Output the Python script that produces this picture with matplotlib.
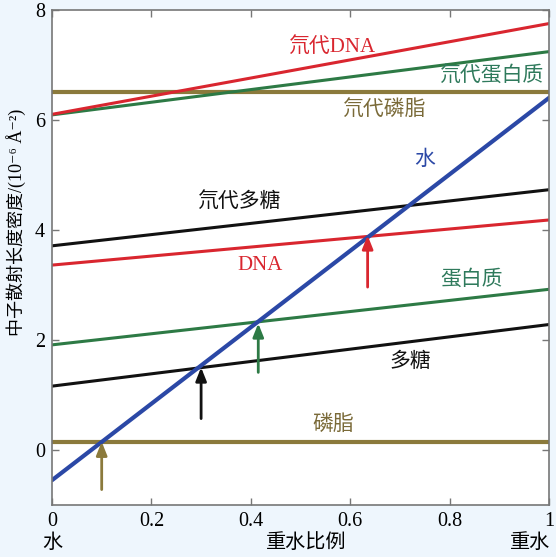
import matplotlib
matplotlib.use('Agg')
import matplotlib.pyplot as plt
import numpy as np

plt.rcParams['font.family'] = ['Liberation Serif', 'DejaVu Serif', 'Noto Sans CJK SC']

# D2O fraction endpoints
x_ends = [0, 1]

# scattering length density at 0% and 100% D2O
water = [-0.55, 6.4]
lipid = [0.15, 0.15]
sugar = [1.16, 2.28]
protein = [1.91, 2.92]
dna = [3.36, 4.18]
d_sugar = [3.71, 4.73]
d_lipid = [6.5, 6.5]
d_protein = [6.09, 7.24]
d_dna = [6.10, 7.75]

# match points (arrow x, arrow start y, arrow end y)
arrow_x = [0.1, 0.3, 0.415, 0.635]
arrow_y0 = [-0.72, 0.57, 1.41, 2.96]
arrow_y1 = [0.15, 1.5, 2.3, 3.9]

red = '#d9262f'
green = '#2d7a45'
olive = '#8b7a3c'
blue = '#2b48a6'
black = '#111111'
arrow_colors = [olive, black, green, red]

fig = plt.figure(figsize=(5.56, 5.57), dpi=100)
fig.patch.set_facecolor('#eef6fd')
ax = fig.add_axes([0.0935, 0.0934, 0.894, 0.889])
ax.set_facecolor('white')

lw = 2.2
ax.plot(x_ends, lipid, color=olive, lw=3)
ax.plot(x_ends, d_lipid, color=olive, lw=3)
ax.plot(x_ends, sugar, color=black, lw=lw)
ax.plot(x_ends, d_sugar, color=black, lw=lw)
ax.plot(x_ends, protein, color=green, lw=lw)
ax.plot(x_ends, d_protein, color=green, lw=lw)
ax.plot(x_ends, dna, color=red, lw=lw)
ax.plot(x_ends, d_dna, color=red, lw=lw)
ax.plot(x_ends, water, color=blue, lw=3, solid_capstyle='round')

for xa, y0, y1, c in zip(arrow_x, arrow_y0, arrow_y1, arrow_colors):
    ax.annotate('', xy=(xa, y1), xytext=(xa, y0),
                arrowprops=dict(arrowstyle='-|>,head_length=0.8,head_width=0.32',
                                color=c, lw=2, shrinkA=0, shrinkB=0))

fs = 15
teal = '#2f7a5c'
brown = '#7a6a38'
ax.text(0.565, 7.33, '氘代DNA', color=red, fontsize=fs, ha='center', va='center')
ax.text(0.885, 6.78, '氘代蛋白质', color=teal, fontsize=fs, ha='center', va='center')
ax.text(0.67, 6.18, '氘代磷脂', color=brown, fontsize=fs, ha='center', va='center')
ax.text(0.75, 5.27, '水', color=blue, fontsize=fs, ha='center', va='center')
ax.text(0.378, 4.51, '氘代多糖', color=black, fontsize=fs, ha='center', va='center')
ax.text(0.418, 3.35, 'DNA', color=red, fontsize=fs, ha='center', va='center')
ax.text(0.845, 3.09, '蛋白质', color=teal, fontsize=fs, ha='center', va='center')
ax.text(0.72, 1.6, '多糖', color=black, fontsize=fs, ha='center', va='center')
ax.text(0.565, 0.45, '磷脂', color=brown, fontsize=fs, ha='center', va='center')

ax.set_xlim(0, 1)
ax.set_ylim(-1, 8)
ax.set_xticks([0, 0.2, 0.4, 0.6, 0.8, 1])
ax.set_xticklabels(['0', '0.2', '0.4', '0.6', '0.8', '1'])
ax.set_yticks([0, 2, 4, 6, 8])
ax.tick_params(direction='in', top=True, right=True, length=5, width=1,
               color='#777777', labelsize=14.5, pad=5)
for s in ax.spines.values():
    s.set_color('#777777')
    s.set_linewidth(1.2)

fig.text(52 / 556, 1 - 543 / 557, '水', fontsize=14.5, ha='center', va='center')
fig.text(306 / 556, 1 - 543 / 557, '重水比例', fontsize=14.5, ha='center', va='center')
fig.text(530 / 556, 1 - 543 / 557, '重水', fontsize=14.5, ha='center', va='center')
fig.text(16 / 556, 1 - 222 / 557, '中子散射长度密度/(10⁻⁶ Å⁻²)', fontsize=13,
         rotation=90, ha='center', va='center')

fig.savefig('out.png', dpi=100, facecolor=fig.get_facecolor())
